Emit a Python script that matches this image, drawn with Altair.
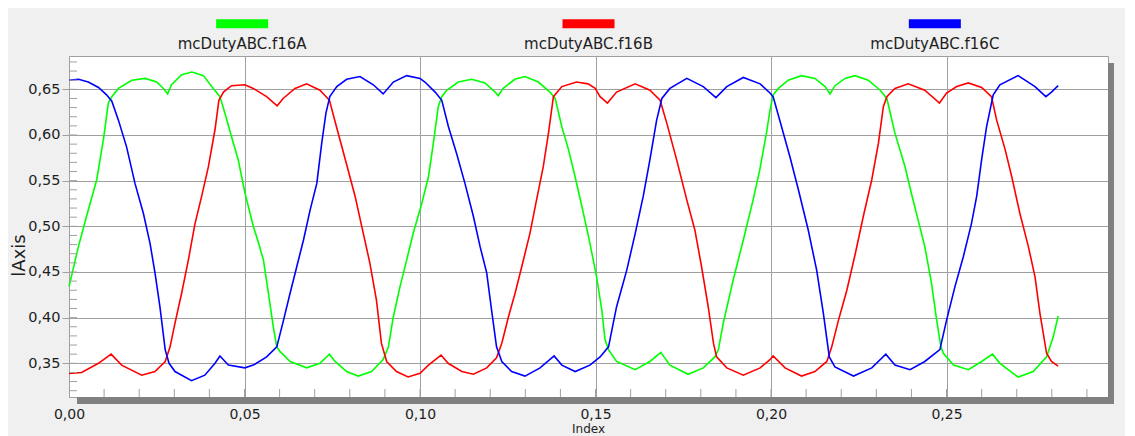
import altair as alt
import pandas as pd

SERIES = ["mcDutyABC.f16A", "mcDutyABC.f16B", "mcDutyABC.f16C"]
COLORS = ["#00ff00", "#ff0000", "#0000ff"]

a_x = [0, 0.0027, 0.005, 0.0079, 0.0098, 0.0112, 0.0122, 0.0141, 0.0179, 0.0217, 0.025, 0.0269, 0.0281,
       0.0292, 0.0321, 0.035, 0.0383, 0.0411, 0.043, 0.0444, 0.0463, 0.0482, 0.0501, 0.0525, 0.0539,
       0.0554, 0.0568, 0.0582, 0.0592, 0.0601, 0.063, 0.0677, 0.0715, 0.0742, 0.0758, 0.0791, 0.0824,
       0.0862, 0.0895, 0.091, 0.0924, 0.0943, 0.0962, 0.0981, 0.1005, 0.1024, 0.1038, 0.1052, 0.1062,
       0.1076, 0.1109, 0.1147, 0.1185, 0.1214, 0.1223, 0.1237, 0.127, 0.1299, 0.1337, 0.137, 0.1385,
       0.1404, 0.1423, 0.1442, 0.1461, 0.148, 0.1503, 0.1518, 0.1527, 0.1537, 0.156, 0.1613, 0.1655,
       0.1686, 0.1712, 0.1764, 0.1807, 0.184, 0.185, 0.1864, 0.1892, 0.1921, 0.1949, 0.1968, 0.1987,
       0.1997, 0.2006, 0.2021, 0.2049, 0.2087, 0.2125, 0.2154, 0.2168, 0.2182, 0.2211, 0.2239, 0.2277,
       0.2311, 0.233, 0.2353, 0.2382, 0.24, 0.2419, 0.2438, 0.2457, 0.2472, 0.2484, 0.2491, 0.252,
       0.2562, 0.26, 0.2631, 0.2652, 0.2704, 0.2747, 0.2785, 0.2804, 0.2818]
a_y = [0.434, 0.478, 0.511, 0.551, 0.595, 0.635, 0.642, 0.651, 0.660, 0.662, 0.658, 0.651, 0.645,
       0.655, 0.666, 0.669, 0.665, 0.651, 0.642, 0.624, 0.598, 0.573, 0.537, 0.500, 0.483,
       0.463, 0.427, 0.390, 0.368, 0.363, 0.352, 0.345, 0.350, 0.360, 0.352, 0.341, 0.336,
       0.341, 0.354, 0.368, 0.401, 0.434, 0.463, 0.493, 0.525, 0.554, 0.591, 0.631, 0.642,
       0.649, 0.658, 0.661, 0.657, 0.647, 0.643, 0.651, 0.661, 0.664, 0.658, 0.647, 0.640,
       0.609, 0.584, 0.554, 0.522, 0.489, 0.445, 0.408, 0.376, 0.365, 0.352, 0.343, 0.352,
       0.362, 0.348, 0.338, 0.345, 0.357, 0.365, 0.394, 0.441, 0.485, 0.529, 0.562, 0.602,
       0.627, 0.644, 0.651, 0.660, 0.665, 0.662, 0.653, 0.645, 0.654, 0.662, 0.665, 0.660,
       0.649, 0.640, 0.602, 0.565, 0.536, 0.507, 0.478, 0.438, 0.397, 0.368, 0.361, 0.348,
       0.343, 0.352, 0.360, 0.350, 0.335, 0.341, 0.357, 0.379, 0.402]

b_x = [0, 0.0036, 0.0084, 0.012, 0.015, 0.0207, 0.0245, 0.0274, 0.0288, 0.0302, 0.0321, 0.034, 0.0359,
       0.0378, 0.0397, 0.0416, 0.0427, 0.044, 0.0463, 0.0501, 0.0525, 0.0563, 0.0593, 0.061, 0.0644,
       0.0677, 0.0715, 0.0742, 0.0762, 0.079, 0.0815, 0.0834, 0.0857, 0.0876, 0.089, 0.0905, 0.0933,
       0.0966, 0.1, 0.1024, 0.106, 0.108, 0.1119, 0.1152, 0.119, 0.1218, 0.1233, 0.1252, 0.1271,
       0.129, 0.1313, 0.1332, 0.1351, 0.1366, 0.138, 0.1404, 0.1446, 0.1479, 0.1499, 0.1513, 0.1534,
       0.156, 0.1613, 0.1655, 0.1684, 0.1703, 0.1731, 0.176, 0.1783, 0.1802, 0.1821, 0.1836, 0.1845,
       0.1874, 0.1921, 0.1969, 0.1997, 0.2006, 0.204, 0.2087, 0.2125, 0.2159, 0.2173, 0.2192, 0.2216,
       0.224, 0.2263, 0.2287, 0.2306, 0.232, 0.233, 0.2353, 0.2391, 0.2438, 0.248, 0.25, 0.2529,
       0.2562, 0.26, 0.2628, 0.2643, 0.2667, 0.2686, 0.2709, 0.2733, 0.2752, 0.2766, 0.2785, 0.2799,
       0.2818]
b_y = [0.339, 0.340, 0.350, 0.360, 0.348, 0.337, 0.341, 0.352, 0.368, 0.394, 0.427, 0.463, 0.503,
       0.533, 0.565, 0.606, 0.638, 0.647, 0.654, 0.655, 0.651, 0.642, 0.632, 0.640, 0.651,
       0.656, 0.649, 0.638, 0.609, 0.569, 0.533, 0.500, 0.460, 0.419, 0.372, 0.352, 0.341,
       0.335, 0.339, 0.348, 0.359, 0.350, 0.341, 0.338, 0.345, 0.356, 0.372, 0.401, 0.427,
       0.456, 0.492, 0.529, 0.565, 0.602, 0.642, 0.653, 0.658, 0.656, 0.651, 0.642, 0.635,
       0.647, 0.656, 0.649, 0.638, 0.613, 0.573, 0.529, 0.496, 0.456, 0.412, 0.372, 0.357,
       0.345, 0.337, 0.345, 0.354, 0.358, 0.345, 0.336, 0.341, 0.352, 0.368, 0.397, 0.430,
       0.470, 0.511, 0.551, 0.591, 0.631, 0.642, 0.651, 0.656, 0.649, 0.635, 0.646, 0.653,
       0.657, 0.652, 0.642, 0.616, 0.584, 0.554, 0.514, 0.478, 0.445, 0.405, 0.361, 0.352,
       0.347]

c_x = [0, 0.0027, 0.0055, 0.0084, 0.0107, 0.0122, 0.0141, 0.0164, 0.0188, 0.0212, 0.0231, 0.0245,
       0.0259, 0.0274, 0.0285, 0.0302, 0.0349, 0.0387, 0.0416, 0.043, 0.0454, 0.0501, 0.0525, 0.0563,
       0.0592, 0.0611, 0.063, 0.0649, 0.0668, 0.0687, 0.0706, 0.072, 0.0732, 0.0743, 0.0763, 0.0791,
       0.0829, 0.0867, 0.0895, 0.0924, 0.0962, 0.1, 0.1014, 0.1043, 0.1062, 0.1081, 0.1104, 0.1128,
       0.1152, 0.1171, 0.119, 0.1204, 0.1218, 0.1233, 0.1261, 0.1299, 0.1342, 0.1382, 0.1404, 0.1442,
       0.1484, 0.1513, 0.1537, 0.156, 0.1589, 0.1613, 0.1636, 0.1655, 0.1674, 0.1689, 0.1712, 0.176,
       0.1807, 0.1843, 0.1874, 0.1921, 0.1969, 0.1997, 0.2006, 0.203, 0.2054, 0.2078, 0.2106, 0.213,
       0.2149, 0.2166, 0.2182, 0.2235, 0.2287, 0.2327, 0.2353, 0.2396, 0.2438, 0.2481, 0.25, 0.2524,
       0.2548, 0.2571, 0.2586, 0.26, 0.2614, 0.2633, 0.2652, 0.2704, 0.2752, 0.2783, 0.2799, 0.2818]
c_y = [0.660, 0.661, 0.658, 0.652, 0.644, 0.637, 0.616, 0.587, 0.547, 0.514, 0.481, 0.449,
       0.412, 0.365, 0.350, 0.341, 0.331, 0.337, 0.350, 0.358, 0.348, 0.345, 0.348, 0.357,
       0.368, 0.397, 0.427, 0.456, 0.485, 0.518, 0.547, 0.591, 0.624, 0.642, 0.653, 0.661,
       0.664, 0.655, 0.645, 0.658, 0.665, 0.662, 0.658, 0.647, 0.638, 0.609, 0.580, 0.547,
       0.511, 0.478, 0.449, 0.408, 0.368, 0.352, 0.341, 0.336, 0.345, 0.358, 0.348, 0.341,
       0.348, 0.357, 0.368, 0.412, 0.452, 0.492, 0.533, 0.573, 0.616, 0.640, 0.651, 0.662,
       0.653, 0.641, 0.653, 0.663, 0.656, 0.646, 0.642, 0.609, 0.576, 0.540, 0.496, 0.452,
       0.405, 0.357, 0.346, 0.336, 0.345, 0.360, 0.348, 0.343, 0.352, 0.365, 0.397, 0.434,
       0.467, 0.503, 0.533, 0.573, 0.609, 0.644, 0.655, 0.665, 0.653, 0.642, 0.647, 0.654]

X_MAJOR = [0.0, 0.05, 0.10, 0.15, 0.20, 0.25]
Y_MAJOR = [0.35, 0.40, 0.45, 0.50, 0.55, 0.60, 0.65]
X_MINOR = [round(i * 0.01, 2) for i in range(1, 30)]
Y_MINOR = [round(0.32 + i * 0.01, 2) for i in range(0, 37)]

X_TITLE = "Index"
Y_TITLE = "lAxis"

W, H = 1039, 341
XDOM = [0.0, 0.296]
YDOM = [0.3131, 0.6865]
GRID = "#a0a0a0"
TXT = "#1e1e1e"
FONT = "DejaVu Sans"
COMMA = "replace(format(datum.value, '.2f'), '.', ',')"

frames = []
for name, xs, ys in [(SERIES[0], a_x, a_y), (SERIES[1], b_x, b_y), (SERIES[2], c_x, c_y)]:
    frames.append(pd.DataFrame({"series": name, "x": xs, "y": ys}))
lines_df = pd.concat(frames, ignore_index=True)

xs = alt.Scale(domain=XDOM, nice=False, zero=False)
ys = alt.Scale(domain=YDOM, nice=False, zero=False)
cs = alt.Scale(domain=SERIES, range=COLORS)

main = alt.Chart(lines_df).mark_line(strokeWidth=1.6).encode(
    x=alt.X("x:Q", scale=xs, axis=alt.Axis(
        values=X_MAJOR, labelExpr=COMMA, grid=True, gridColor=GRID, gridOpacity=1,
        ticks=False, domain=False, labelPadding=10, labelFlush=False, labelOverlap=False,
        labelFont=FONT, labelFontSize=14,
        labelColor=TXT, title=X_TITLE, titleFont=FONT, titleFontSize=12,
        titleFontWeight="normal", titleColor=TXT, titleX=519, titleY=26.3,
        titleBaseline="top", titleAlign="center")),
    y=alt.Y("y:Q", scale=ys, axis=alt.Axis(
        values=Y_MAJOR, labelExpr=COMMA, grid=True, gridColor=GRID, gridOpacity=1,
        ticks=True, tickSize=7, tickColor=GRID, domain=False, labelPadding=2,
        labelFlush=False, labelOverlap=False,
        labelFont=FONT, labelFontSize=14.5, labelColor=TXT, title=Y_TITLE,
        titleFont=FONT, titleFontSize=18, titleFontWeight="normal", titleColor=TXT,
        titleX=-50, titleY=199, titleAngle=270, titleBaseline="middle", titleAlign="center")),
    color=alt.Color("series:N", scale=cs, legend=None),
    detail="series:N",
)

xminor = alt.Chart(pd.DataFrame({"x": X_MINOR})).mark_rule(color=GRID, strokeWidth=1).encode(
    x=alt.X("x:Q", scale=xs, axis=None),
    y=alt.value(H), y2=alt.value(H - 8),
)
yminor = alt.Chart(pd.DataFrame({"y": Y_MINOR})).mark_rule(color=GRID, strokeWidth=1).encode(
    y=alt.Y("y:Q", scale=ys, axis=None),
    x=alt.value(0), x2=alt.value(8),
)

dummy = pd.DataFrame({"k": [0]})
shadow_r = alt.Chart(dummy).mark_rect(color="#808080").encode(
    x=alt.value(W), x2=alt.value(W + 6), y=alt.value(7), y2=alt.value(H + 7))
shadow_b = alt.Chart(dummy).mark_rect(color="#808080").encode(
    x=alt.value(8), x2=alt.value(W + 6), y=alt.value(H), y2=alt.value(H + 7))

leg_df = pd.DataFrame({"series": SERIES})
lx = alt.X("series:N", scale=alt.Scale(type="point", domain=SERIES, range=[0, W], padding=0.5), axis=None)
swatch = alt.Chart(leg_df).mark_point(
    shape="M-1,-0.173H1V0.173H-1Z", size=2704, filled=True, opacity=1).encode(
    x=lx, y=alt.value(-32.3), color=alt.Color("series:N", scale=cs, legend=None))
labels = alt.Chart(leg_df).mark_text(
    font=FONT, fontSize=15, color=TXT, align="center", baseline="alphabetic").encode(
    x=lx, y=alt.value(-6.7), text="series:N")

chart = alt.layer(shadow_r, shadow_b, main, xminor, yminor, swatch, labels).resolve_scale(
    x="independent", y="independent"
).properties(
    width=W, height=H,
    padding={"left": 61, "top": 48, "right": 17, "bottom": 39},
    autosize=alt.AutoSizeParams(type="none"),
    background="#f0f0f0",
).configure_view(stroke=GRID, fill="white")

chart.save("out.html", embed_options={"renderer": "svg", "actions": False})
